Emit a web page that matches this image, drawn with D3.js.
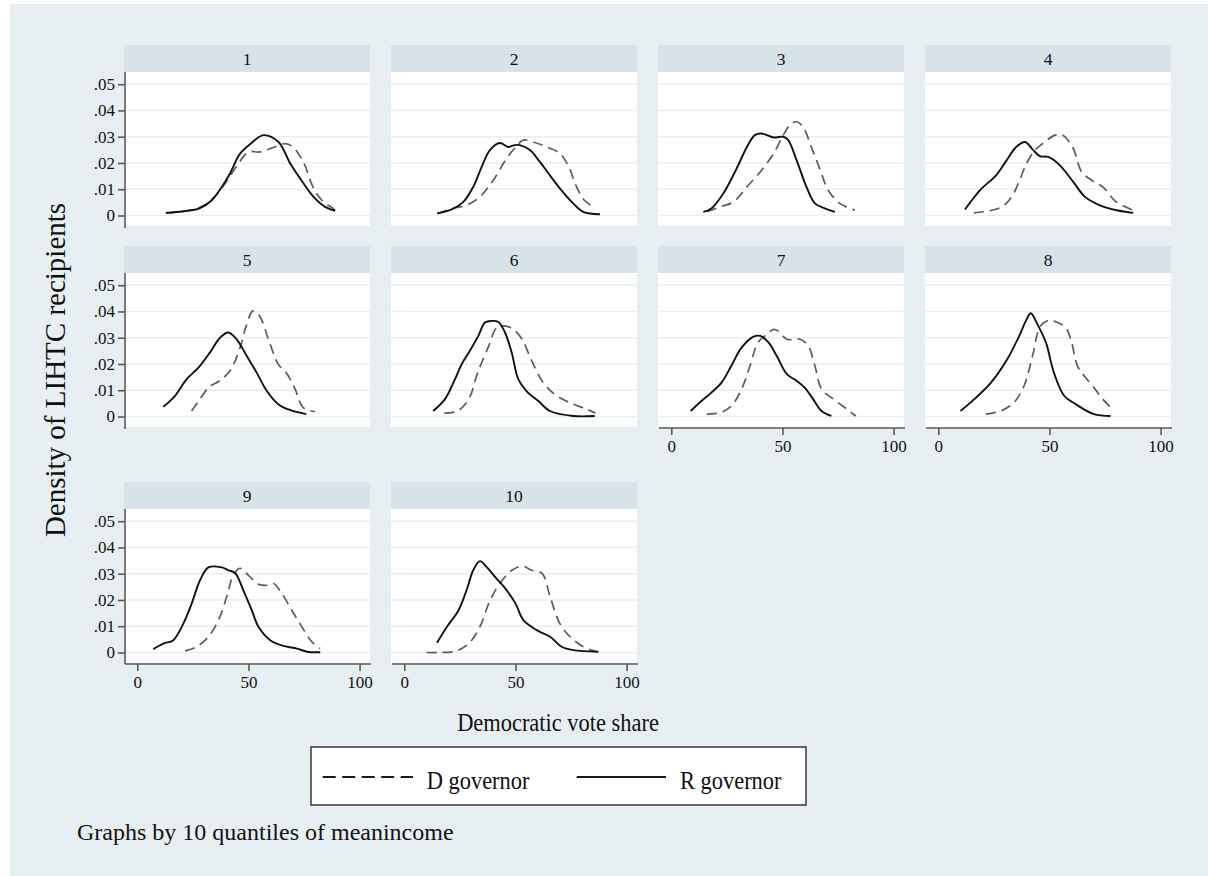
<!DOCTYPE html>
<html>
<head>
<meta charset="utf-8">
<script src="https://cdn.jsdelivr.net/npm/d3@7"></script>
<style>
  body { margin: 0; background: #ffffff; }
  svg text { font-family: "Liberation Serif", "Times New Roman", serif; fill: #111; }
</style>
</head>
<body>
<svg id="chart" width="1208" height="876"></svg>
<script>
// Panel labels: income quantiles
const quantiles = ["1", "2", "3", "4", "5", "6", "7", "8", "9", "10"];

// Axis ticks
const yTicks = [0, 0.01, 0.02, 0.03, 0.04, 0.05];
const yTickLabels = ["0", ".01", ".02", ".03", ".04", ".05"];
const xTicks = [0, 50, 100];
const xTickLabels = ["0", "50", "100"];

// Series names
const seriesNames = ["D governor", "R governor"];

// Kernel density of LIHTC recipients by Democratic vote share, [vote share, density]
const dGovernor = [
  [[13,0.0010],[20,0.0015],[28,0.0030],[34,0.0065],[40,0.0128],[46,0.0204],[50,0.0242],[55,0.0242],[60,0.0255],[66.5,0.0274],[70,0.0261],[75,0.0198],[79,0.0109],[83,0.0058],[88,0.0027],[89,0.0020]],
  [[15,0.0007],[22,0.0027],[28,0.0039],[34,0.0071],[40,0.0134],[46,0.0217],[50.5,0.0264],[53.5,0.0287],[58,0.0280],[64,0.0261],[70,0.0236],[73.7,0.0191],[77.5,0.0109],[81,0.0058],[85.7,0.0030]],
  [[16,0.0014],[22,0.0033],[28,0.0052],[34,0.0109],[40,0.0166],[46,0.0236],[50.4,0.0306],[53.3,0.0344],[56.3,0.0357],[59.3,0.0337],[63,0.0261],[67,0.0173],[70.6,0.0096],[75.8,0.0046],[82.6,0.0020]],
  [[16,0.0010],[23,0.0018],[29,0.0035],[33,0.0071],[36,0.0122],[39.7,0.0198],[43.5,0.0249],[47,0.0274],[52.5,0.0306],[56,0.0306],[60.7,0.0255],[64.5,0.0166],[69,0.0134],[74,0.0109],[80,0.0052],[88.4,0.0018]],
  [[24.4,0.0021],[28.2,0.0066],[32,0.0110],[37,0.0136],[41.7,0.0174],[46,0.0256],[49,0.0345],[52,0.0402],[55,0.0383],[59,0.0294],[63.4,0.0199],[67,0.0167],[71,0.0104],[74.6,0.0034],[80,0.0018]],
  [[18,0.0013],[24,0.0021],[29,0.0066],[33,0.0167],[38,0.0269],[41.6,0.0339],[45,0.0345],[49,0.0332],[53,0.0294],[57,0.0218],[62.5,0.0129],[68.5,0.0079],[76,0.0047],[82,0.0028],[86,0.0013]],
  [[16,0.0009],[22,0.0015],[27,0.0040],[31.6,0.0104],[35.4,0.0193],[39,0.0282],[43,0.0313],[46,0.0332],[48,0.0326],[52,0.0294],[58,0.0294],[61.6,0.0269],[64.6,0.0193],[67.6,0.0104],[73,0.0066],[79,0.0028],[83,0.0002]],
  [[21.4,0.0009],[28,0.0021],[34,0.0053],[38.6,0.0117],[42.4,0.0231],[46,0.0345],[50,0.0367],[53.6,0.0358],[57.3,0.0339],[59.6,0.0294],[62.6,0.0193],[65.6,0.0155],[70,0.0110],[74,0.0066],[78.3,0.0028]],
  [[21.5,0.0006],[26.7,0.0022],[32,0.0060],[36.5,0.0123],[40.2,0.0212],[43.2,0.0294],[46.2,0.0320],[50,0.0294],[54.5,0.0260],[58.3,0.0256],[61.3,0.0263],[65,0.0225],[69.5,0.0161],[74,0.0098],[78.5,0.0041],[82.3,0.0015]],
  [[10,0.0000],[16,0.0000],[23,0.0005],[29,0.0034],[34,0.0098],[38.6,0.0199],[43,0.0263],[48.4,0.0313],[53,0.0329],[57.4,0.0313],[62,0.0301],[65.6,0.0212],[70,0.0110],[74.6,0.0060],[80.5,0.0022],[86.5,0.0003]]
];

const rGovernor = [
  [[12.8,0.0010],[20.7,0.0016],[28,0.0027],[33.5,0.0058],[37,0.0096],[41.7,0.0160],[46,0.0233],[50.8,0.0272],[56.8,0.0306],[63.5,0.0280],[68.8,0.0198],[74.8,0.0122],[79.3,0.0071],[84.5,0.0033],[89,0.0018]],
  [[14.8,0.0008],[21.3,0.0023],[26.6,0.0052],[31,0.0109],[34.8,0.0185],[38.5,0.0249],[43,0.0276],[46.7,0.0261],[49.7,0.0268],[52,0.0268],[56.5,0.0249],[61,0.0204],[65.5,0.0153],[70.7,0.0096],[76,0.0046],[80.5,0.0014],[88,0.0005]],
  [[14.4,0.0014],[18,0.0027],[23.4,0.0084],[29.4,0.0179],[34,0.0261],[37.6,0.0306],[40.6,0.0312],[46,0.0297],[50.4,0.0300],[52.6,0.0287],[56.4,0.0210],[60.8,0.0109],[64.6,0.0046],[69,0.0027],[73.6,0.0014]],
  [[12,0.0023],[18.7,0.0096],[26,0.0153],[30.7,0.0210],[35,0.0261],[39,0.0280],[42.7,0.0249],[45.7,0.0226],[49.5,0.0223],[54.7,0.0191],[60.7,0.0128],[66,0.0071],[72.7,0.0039],[80.3,0.0020],[87.7,0.0010]],
  [[11.7,0.0037],[17,0.0079],[22.2,0.0142],[27.5,0.0186],[32.7,0.0244],[37.2,0.0300],[40.9,0.0320],[44.7,0.0294],[49.2,0.0231],[53.7,0.0167],[58.2,0.0098],[63.4,0.0047],[68.6,0.0025],[76,0.0009]],
  [[13,0.0021],[18.3,0.0066],[22.8,0.0142],[25.8,0.0199],[29.5,0.0250],[33.3,0.0307],[36.3,0.0358],[39.3,0.0364],[42.3,0.0360],[45.3,0.0320],[48.3,0.0244],[51.3,0.0142],[55.6,0.0091],[60.2,0.0060],[65.5,0.0021],[76,0.0002],[85.7,0.0002]],
  [[8.7,0.0021],[13.7,0.0060],[18,0.0091],[22.6,0.0129],[27,0.0193],[31.6,0.0262],[37,0.0304],[40,0.0307],[43.7,0.0282],[47.4,0.0231],[52,0.0161],[56.4,0.0136],[60,0.0110],[63.8,0.0066],[67.6,0.0021],[72,0.0002]],
  [[10,0.0021],[16.2,0.0066],[23.7,0.0129],[31,0.0218],[36.4,0.0307],[39.4,0.0364],[41.6,0.0393],[44.6,0.0351],[48.4,0.0282],[52,0.0167],[56.6,0.0079],[61.8,0.0047],[70,0.0009],[77.5,0.0002]],
  [[7.2,0.0013],[11.7,0.0034],[16.2,0.0047],[20.7,0.0110],[24.5,0.0187],[28.2,0.0275],[32,0.0324],[38,0.0324],[41,0.0313],[44,0.0303],[47.7,0.0237],[51.5,0.0161],[54.5,0.0098],[59.8,0.0047],[65.8,0.0025],[71.8,0.0015],[76.3,0.0003],[82.3,0.0001]],
  [[14.7,0.0037],[19.2,0.0098],[24.4,0.0161],[28,0.0237],[31,0.0313],[34,0.0348],[37,0.0326],[41,0.0286],[45.4,0.0244],[50,0.0187],[53.6,0.0123],[59.6,0.0085],[65.6,0.0060],[70.8,0.0022],[76,0.0009],[87.3,0.0003]]
];

// ---- layout ----
const W = 1208, H = 876;
const bgColor = "#e8eff2", stripColor = "#d7e2e9", gridColor = "#e8eff3", axisColor = "#5a5a5a";
const colLeft = [124, 391, 658, 925];
const rowTop = [45, 246, 482];
const panelW = 246, stripH = 27, plotH = 154;
const nCols = 4;
const textSquash = 0.88;   // narrow set for the larger titles

const dashedStyle = { stroke: "#5c5c5c", width: 1.7, dash: "10,6" };
const solidStyle = { stroke: "#111111", width: 1.9, dash: null };

const svg = d3.select("#chart");

// outer graph region
svg.append("rect").attr("x", 10).attr("y", 4).attr("width", W - 10).attr("height", H - 4).attr("fill", bgColor);

const line = (xs, ys) => d3.line()
  .x(d => xs(d[0]))
  .y(d => ys(d[1]))
  .curve(d3.curveCatmullRom.alpha(0.5));

// horizontal text condensed around its anchor point
function squashedText(parent, x, y, size, str, anchor) {
  return parent.append("text")
    .attr("transform", `translate(${x},${y}) scale(${textSquash},1)`)
    .attr("text-anchor", anchor || "start")
    .style("font-size", size + "px").text(str);
}

quantiles.forEach((q, i) => {
  const c = i % nCols, r = Math.floor(i / nCols);
  const left = colLeft[c], top = rowTop[r];
  const plotTop = top + stripH, plotBottom = plotTop + plotH;
  const g = svg.append("g").attr("class", "panel");

  const x = d3.scaleLinear().domain([0, 100]).range([left + 13.3, left + 235.6]);
  const y = d3.scaleLinear().domain([0, 0.05]).range([plotTop + 143.5, plotTop + 12.2]);

  // strip with panel label
  g.append("rect").attr("x", left).attr("y", top).attr("width", panelW).attr("height", stripH).attr("fill", stripColor);
  g.append("text").attr("x", left + panelW / 2).attr("y", top + stripH / 2 + 6)
    .attr("text-anchor", "middle").style("font-size", "17.5px").text(q);

  // plot region
  g.append("rect").attr("x", left).attr("y", plotTop).attr("width", panelW).attr("height", plotH).attr("fill", "#ffffff");

  // horizontal grid
  g.selectAll("line.grid").data(yTicks).join("line").attr("class", "grid")
    .attr("x1", left).attr("x2", left + panelW)
    .attr("y1", d => y(d)).attr("y2", d => y(d))
    .attr("stroke", gridColor).attr("stroke-width", 1.6);

  // curves: D governor (dashed) then R governor (solid)
  [[dGovernor[i], dashedStyle], [rGovernor[i], solidStyle]].forEach(([pts, st]) => {
    g.append("path").attr("d", line(x, y)(pts))
      .attr("fill", "none").attr("stroke", st.stroke).attr("stroke-width", st.width)
      .attr("stroke-dasharray", st.dash).attr("stroke-linejoin", "round");
  });

  const hasX = (i + nCols >= quantiles.length);
  // y axis on first column
  if (c === 0) {
    const ax = g.append("g").attr("transform", `translate(${left + 1},0)`)
      .call(d3.axisLeft(y).tickValues(yTicks).tickFormat((d, k) => yTickLabels[k]).tickSize(7).tickPadding(3));
    ax.select(".domain").attr("d", `M0,${plotTop}V${plotBottom + (hasX ? 1 : 2)}`);
    ax.selectAll(".domain, .tick line").attr("stroke", axisColor).attr("stroke-width", 1.6);
    ax.selectAll(".tick text").attr("fill", "#111").style("font-size", "17px")
      .style("font-family", "'Liberation Serif', serif");
  }
  // x axis on the last panel of each column
  if (hasX) {
    const ax = g.append("g").attr("transform", `translate(0,${plotBottom + 1})`)
      .call(d3.axisBottom(x).tickValues(xTicks).tickFormat((d, k) => xTickLabels[k]).tickSize(7).tickPadding(5));
    ax.select(".domain").attr("d", `M${left + 1},0H${left + panelW + 1}`);
    ax.selectAll(".domain, .tick line").attr("stroke", axisColor).attr("stroke-width", 1.6);
    ax.selectAll(".tick text").attr("fill", "#111").style("font-size", "17px")
      .style("font-family", "'Liberation Serif', serif");
  }
});

// axis titles
svg.append("text").attr("transform", "translate(65,370) rotate(-90)")
  .attr("text-anchor", "middle").style("font-size", "29px").text("Density of LIHTC recipients");
squashedText(svg, 558, 731, 25.5, "Democratic vote share", "middle");

// legend
const lg = svg.append("g").attr("class", "legend");
lg.append("rect").attr("x", 311).attr("y", 747).attr("width", 495).attr("height", 58)
  .attr("fill", "#ffffff").attr("stroke", "#444").attr("stroke-width", 1.6);
const legendItems = [
  { name: seriesNames[0], dash: "13,6.5", x0: 322.7, x1: 413, tx: 426.7 },
  { name: seriesNames[1], dash: null, x0: 576.7, x1: 666, tx: 680 }
];
legendItems.forEach(it => {
  lg.append("line").attr("x1", it.x0).attr("x2", it.x1).attr("y1", 777).attr("y2", 777)
    .attr("stroke", "#1a1a1a").attr("stroke-width", 2).attr("stroke-dasharray", it.dash);
  squashedText(lg, it.tx, 789, 25.5, it.name, "start");
});

// note
svg.append("text").attr("x", 77).attr("y", 840).style("font-size", "24px")
  .text("Graphs by 10 quantiles of meanincome");
</script>
</body>
</html>
